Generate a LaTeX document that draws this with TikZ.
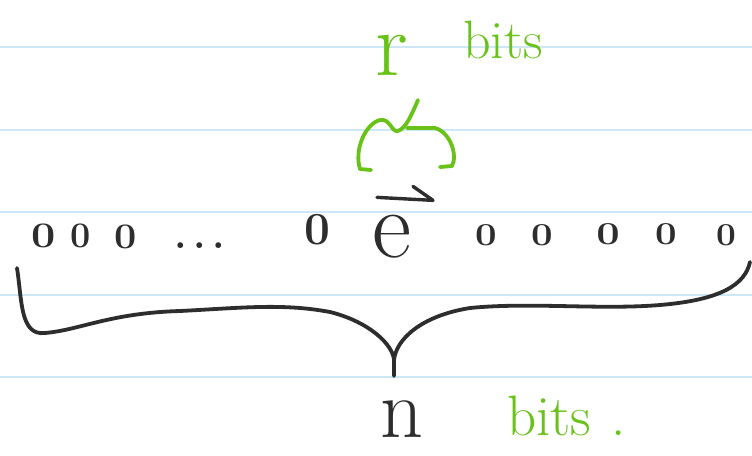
\documentclass[tikz,border=0pt]{standalone}
\usepackage{fontspec}
\definecolor{rule}{RGB}{205,231,247}
\definecolor{ink}{RGB}{45,45,45}
\definecolor{pen}{RGB}{104,194,24}
\newcommand{\fs}[1]{\fontsize{#1}{#1}\selectfont}
\newcommand{\fb}[1]{\fontsize{#1}{#1}\selectfont\bfseries}
\tikzset{
  ruleline/.style={draw=rule, line width=2pt},
  digit/.style={anchor=base, inner sep=0pt, text=ink},
  inkstroke/.style={draw=ink, line width=3.8pt, line cap=round, line join=round},
  penstroke/.style={draw=pen, line width=3.8pt, line cap=round, line join=round},
  pentext/.style={anchor=base west, inner sep=0pt, text=pen}
}
\begin{document}
\begin{tikzpicture}[x=1pt,y=-1pt]
\useasboundingbox[fill=white] (0,0) rectangle (752,455);
% ruled lines
\foreach \yy in {47,130,212,295,377} \draw[ruleline] (0,\yy) -- (752,\yy);
% top label
\node[digit, text=pen, font=\fs{92}] (r) at (392,75) {r};
\node[pentext, font=\fs{54}] (rbits) at (463,58) {bits};
% green brace
\draw[penstroke] (371,170) -- (360,169) .. controls (354,150) and (365,124) .. (380,120) .. controls (390,118) and (392,133) .. (398,131) .. controls (406,128) and (411,116) .. (418,100);
\draw[penstroke] (407,128) -- (435,128) .. controls (450,132) and (458,155) .. (452,166) -- (440,167);
% digit row
\node[digit, font=\fb{36}] (d1) at (44,247) {\scalebox{1.2}[1]{0}};
\node[digit, font=\fb{36}] (d2) at (81,247) {0};
\node[digit, font=\fb{36}] (d3) at (126,248) {\scalebox{1.1}[1]{0}};
\node[digit, font=\fb{40}] (dots) at (200,248) {.\,.\,.};
\node[digit, font=\fb{46}] (d4) at (317,244) {0};
\node[digit, font=\fs{96}] (e) at (392,257) {e};
\node[digit, font=\fb{32}] (d5) at (486,245) {\scalebox{1.2}[1]{0}};
\node[digit, font=\fb{32}] (d6) at (542,245) {\scalebox{1.2}[1]{0}};
\node[digit, font=\fb{32}] (d7) at (608,244) {\scalebox{1.3}[1]{0}};
\node[digit, font=\fb{32}] (d8) at (666,244) {\scalebox{1.2}[1]{0}};
\node[digit, font=\fb{32}] (d9) at (726,245) {\scalebox{1.1}[1]{0}};
% harpoon over e
\draw[inkstroke, line width=3.4pt] ([shift={(-15,-17)}]e.north) -- ++(56,3) -- ++(-20,-14);
% bottom brace
\draw[inkstroke] (17,268) .. controls (22,300) and (20,336) .. (45,333) .. controls (80,330) and (110,313) .. (180,311) .. controls (240,308) and (282,303) .. (330,312) .. controls (370,322) and (393,345) .. (394,360) -- (394,376);
\draw[inkstroke] (394,360) .. controls (396,340) and (420,316) .. (470,308) .. controls (530,302) and (600,310) .. (660,305) .. controls (720,300) and (745,285) .. (750,262);
% bottom label
\node[digit, font=\fs{84}] (n) at (402,437) {n};
\node[pentext, font=\fs{57}] (nbits) at (507,435) {bits\hspace{20pt}.};
\end{tikzpicture}
\end{document}
